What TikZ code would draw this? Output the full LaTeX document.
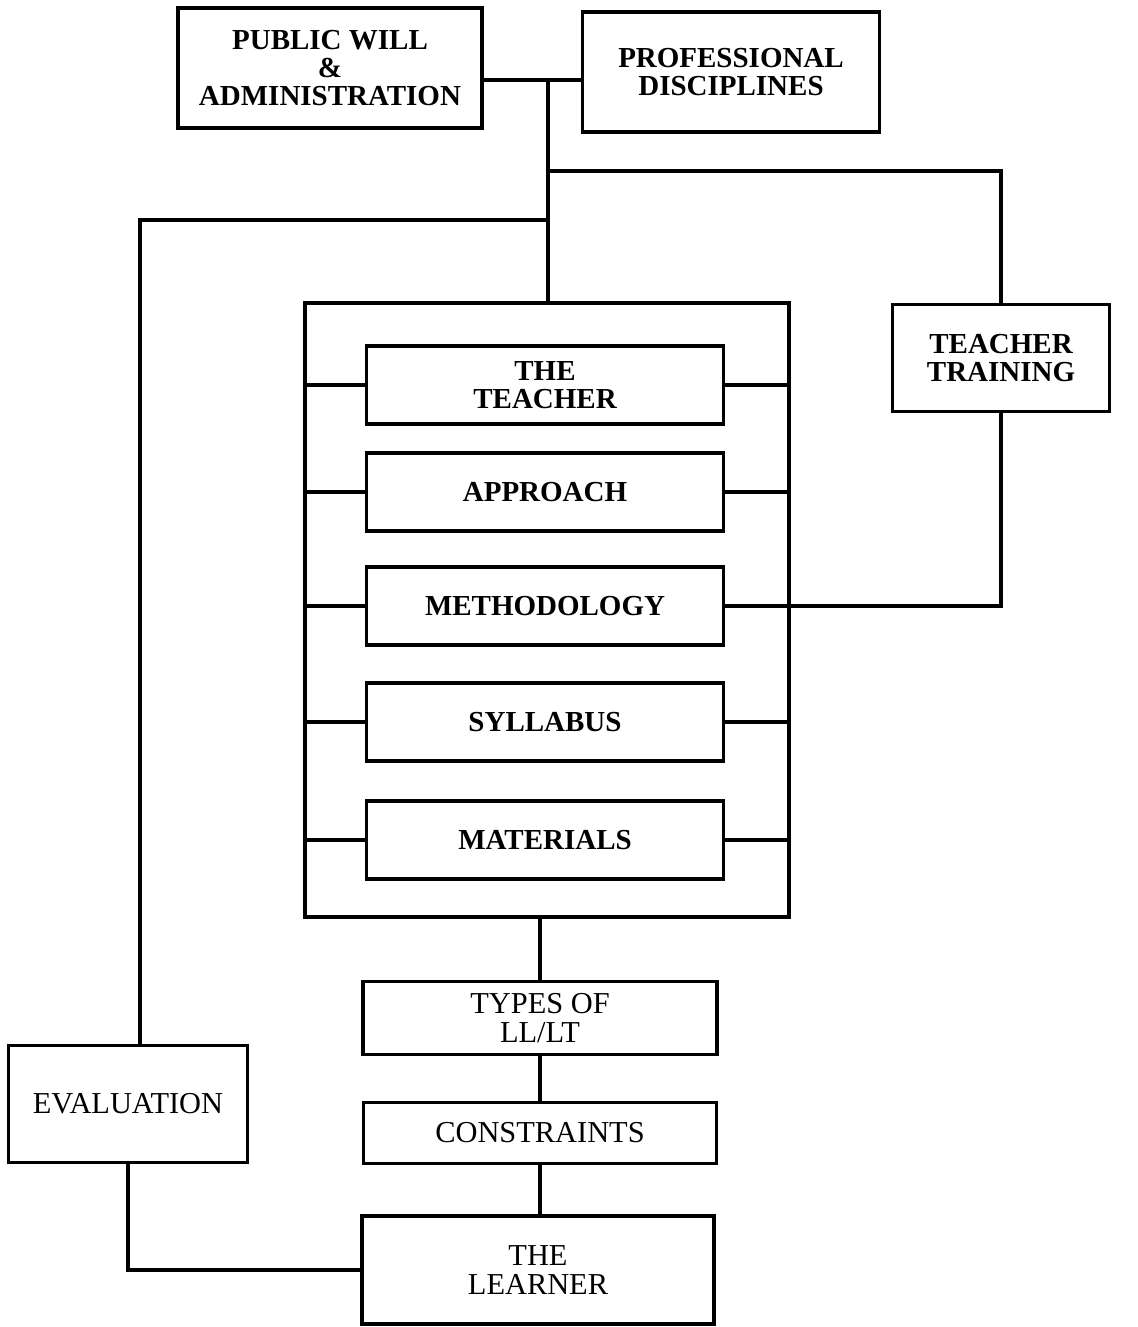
\documentclass[tikz,border=0pt]{standalone}
\usepackage{fontspec}
\setmainfont{Liberation Serif}
\usetikzlibrary{positioning,calc}

\begin{document}
\begin{tikzpicture}[x=0.02cm, y=-0.02cm,
  caja/.style={draw, line width=2pt, align=center, inner sep=2pt,
    font=\fontsize{16.5}{16}\selectfont\bfseries},
  cajafina/.style={caja, font=\fontsize{17.3}{16.5}\selectfont},
  interna/.style={caja, minimum width=7.14cm, minimum height=1.56cm},
  linea/.style={line width=2pt}
]
\useasboundingbox (0,0) rectangle (1137,1327);
\node[caja, minimum width=6.08cm, minimum height=2.4cm] (pw) at (330,68)
  {PUBLIC WILL\\\&\\ADMINISTRATION};
\node[caja, minimum width=5.94cm, minimum height=2.4cm] (pd) at (731,72)
  {PROFESSIONAL\\DISCIPLINES};
\node[caja, minimum width=4.34cm, minimum height=2.14cm] (tt) at (1001,358)
  {TEACHER\\TRAINING};
\node[draw, line width=2pt, minimum width=9.68cm, minimum height=12.28cm]
  (marco) at (547,610) {};
\node[interna] (te) at (545,385) {THE\\TEACHER};
\node[interna] (ap) at (545,492) {APPROACH};
\node[interna] (mt) at (545,606) {METHODOLOGY};
\node[interna] (sy) at (545,722) {SYLLABUS};
\node[interna] (ma) at (545,840) {MATERIALS};
\node[cajafina, minimum width=7.08cm, minimum height=1.46cm] (ty) at (540,1018)
  {TYPES OF\\LL/LT};
\node[cajafina, minimum width=7.06cm, minimum height=1.22cm] (co) at (540,1133)
  {CONSTRAINTS};
\node[cajafina, minimum width=7.04cm, minimum height=2.16cm] (le) at (538,1270)
  {THE\\LEARNER};
\node[cajafina, minimum width=4.78cm, minimum height=2.34cm] (ev) at (128,1104)
  {EVALUATION};
\coordinate (nudo) at (548,80);
\coordinate (ramaD) at (548,171);
\coordinate (ramaI) at (548,220);
\draw[linea] (pw.east |- nudo) -- (pd.west |- nudo);
\draw[linea] (nudo) -- (nudo |- marco.north);
\draw[linea] (ramaD) -| (tt.north);
\draw[linea] (ramaI) -| ($(ev.north)+(12,0)$);
\draw[linea] (tt.south) |- (mt -| marco.east);
\draw[linea] (te.west -| marco.west) -- (te.west) (te.east) -- (te.east -| marco.east);
\draw[linea] (ap.west -| marco.west) -- (ap.west) (ap.east) -- (ap.east -| marco.east);
\draw[linea] (mt.west -| marco.west) -- (mt.west) (mt.east) -- (mt.east -| marco.east);
\draw[linea] (sy.west -| marco.west) -- (sy.west) (sy.east) -- (sy.east -| marco.east);
\draw[linea] (ma.west -| marco.west) -- (ma.west) (ma.east) -- (ma.east -| marco.east);
\draw[linea] (ty.north |- marco.south) -- (ty.north);
\draw[linea] (ty) -- (co);
\draw[linea] (co.south) -- (co.south |- le.north);
\draw[linea] (ev.south) |- (le.west);
\end{tikzpicture}
\end{document}
